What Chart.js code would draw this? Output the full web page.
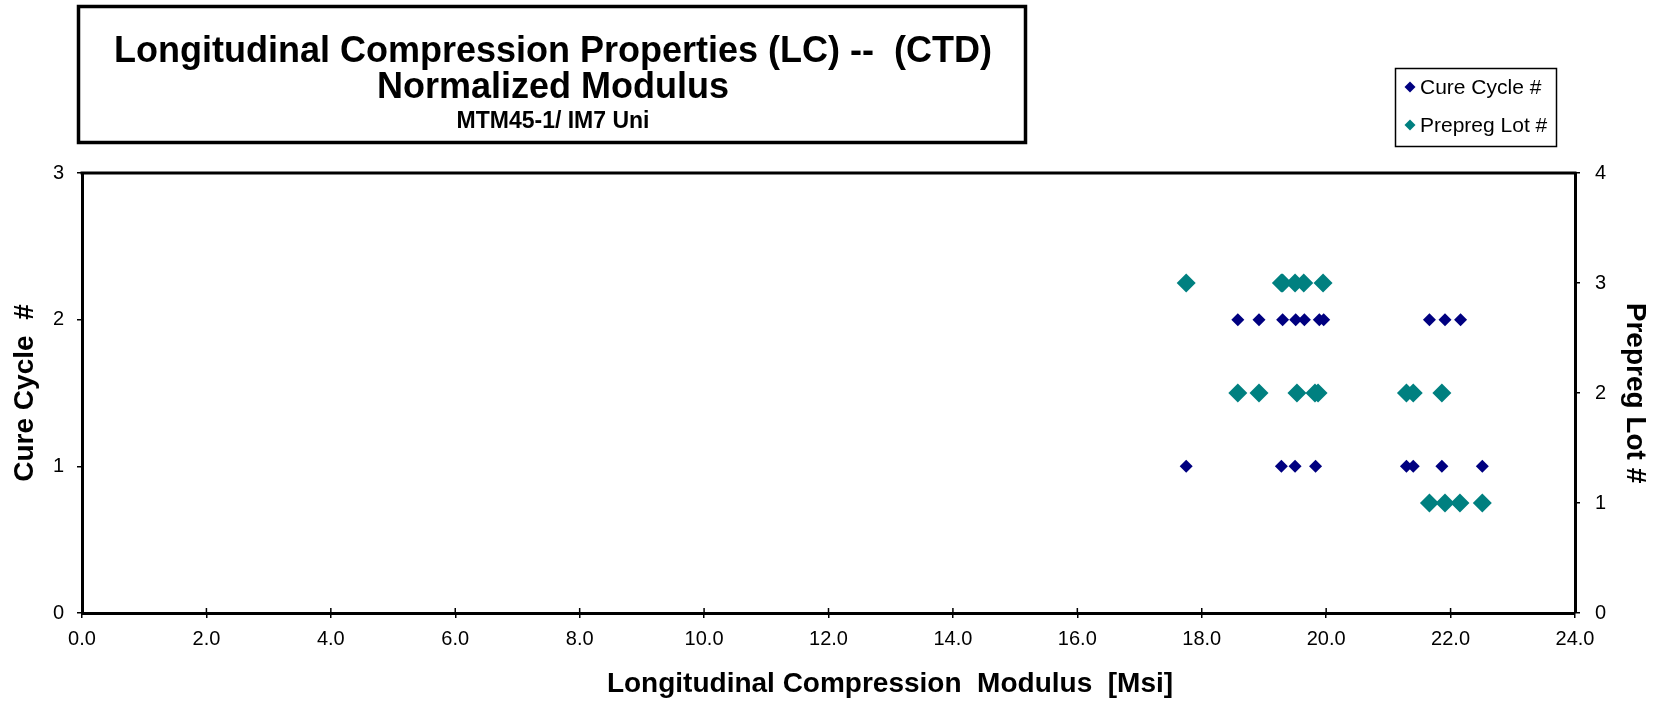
<!DOCTYPE html>
<html lang="en">
<head>
    <meta charset="UTF-8">
    <title>Longitudinal Compression Properties (LC) - Normalized Modulus</title>
    <script src="https://cdn.jsdelivr.net/npm/chart.js"></script>
    <style>
        body { margin: 0; background: #fff; }
        canvas { display: block; }
    </style>
</head>
<body>
    <canvas id="myChart" width="1660" height="703"></canvas>

    <script>
        // datos
        const cureCycleX = [17.75, 19.28, 19.50, 19.83, 21.29, 21.40, 21.86, 22.51,
                            18.58, 18.92, 19.30, 19.51, 19.65, 19.89, 19.96, 21.66, 21.91, 22.16];
        const cureCycleY = [1, 1, 1, 1, 1, 1, 1, 1,
                            2, 2, 2, 2, 2, 2, 2, 2, 2, 2];
        const prepregLotX = [17.75, 19.28, 19.30, 19.50, 19.64, 19.95,
                             18.58, 18.92, 19.53, 19.82, 19.87, 21.29, 21.40, 21.86,
                             21.66, 21.91, 22.15, 22.51];
        const prepregLotY = [3, 3, 3, 3, 3, 3,
                             2, 2, 2, 2, 2, 2, 2, 2,
                             1, 1, 1, 1];
        const titleLines = ['Longitudinal Compression Properties (LC) --  (CTD)', 'Normalized Modulus', 'MTM45-1/ IM7 Uni'];
        const seriesLabels = ['Cure Cycle #', 'Prepreg Lot #'];
        const xTitle = 'Longitudinal Compression  Modulus  [Msi]';

        const FONT = '"Liberation Sans", Arial, sans-serif';
        Chart.defaults.font.family = FONT;
        Chart.defaults.color = '#000';

        const toPoints = (xs, ys) => xs.map((x, i) => ({ x: x, y: ys[i] }));

        // caja del titulo, leyenda, titulo del eje x y linea superior del marco
        const framePlugin = {
            id: 'frame',
            afterDraw(chart) {
                const ctx = chart.ctx;
                const a = chart.chartArea;
                ctx.save();

                // linea superior del area
                ctx.strokeStyle = '#000';
                ctx.lineWidth = 3;
                ctx.beginPath();
                ctx.moveTo(a.left - 1.5, a.top);
                ctx.lineTo(a.right + 1.5, a.top);
                ctx.stroke();

                // marcas del eje x hacia dentro
                const xs = chart.scales.x;
                ctx.lineWidth = 1.5;
                xs.ticks.forEach(t => {
                    const px = xs.getPixelForValue(t.value);
                    ctx.beginPath();
                    ctx.moveTo(px, a.bottom);
                    ctx.lineTo(px, a.bottom - 5);
                    ctx.stroke();
                });

                // titulo
                ctx.lineWidth = 3.5;
                ctx.strokeRect(78.5, 6.5, 947, 136);
                ctx.fillStyle = '#000';
                ctx.textAlign = 'center';
                ctx.textBaseline = 'alphabetic';
                ctx.font = 'bold 36px ' + FONT;
                ctx.fillText(titleLines[0], 553, 62, 885);
                ctx.fillText(titleLines[1], 553, 98, 360);
                ctx.font = 'bold 23px ' + FONT;
                ctx.fillText(titleLines[2], 553, 128, 215);

                // titulo eje x
                ctx.font = 'bold 28px ' + FONT;
                ctx.textBaseline = 'middle';
                ctx.fillText(xTitle, 890, 684);

                // leyenda
                ctx.lineWidth = 1.5;
                ctx.strokeRect(1395.5, 68.5, 161, 78);
                ctx.font = '21px ' + FONT;
                ctx.textAlign = 'left';
                ctx.textBaseline = 'middle';
                const rows = [87, 125];
                chart.data.datasets.forEach((ds, i) => {
                    const y = rows[i];
                    ctx.fillStyle = ds.backgroundColor;
                    ctx.beginPath();
                    ctx.moveTo(1410, y - 5.5);
                    ctx.lineTo(1415.5, y);
                    ctx.lineTo(1410, y + 5.5);
                    ctx.lineTo(1404.5, y);
                    ctx.closePath();
                    ctx.fill();
                    ctx.fillStyle = '#000';
                    ctx.fillText(ds.label, 1420, y + 1);
                });
                ctx.restore();
            }
        };

        const ctx = document.getElementById('myChart').getContext('2d');
        new Chart(ctx, {
            type: 'scatter',
            data: {
                datasets: [{
                    label: seriesLabels[0],
                    data: toPoints(cureCycleX, cureCycleY),
                    yAxisID: 'y',
                    backgroundColor: '#000080',
                    borderColor: '#000080',
                    borderWidth: 0,
                    pointStyle: 'rectRot',
                    pointRadius: 6.5,
                    pointHoverRadius: 6.5
                }, {
                    label: seriesLabels[1],
                    data: toPoints(prepregLotX, prepregLotY),
                    yAxisID: 'y2',
                    backgroundColor: '#008080',
                    borderColor: '#008080',
                    borderWidth: 0,
                    pointStyle: 'rectRot',
                    pointRadius: 9.5,
                    pointHoverRadius: 9.5
                }]
            },
            options: {
                responsive: false,
                animation: false,
                devicePixelRatio: 1,
                layout: { padding: { top: 173, left: 0, right: 0, bottom: 0 } },
                plugins: {
                    legend: { display: false },
                    tooltip: { enabled: false }
                },
                scales: {
                    x: {
                        type: 'linear',
                        min: 0,
                        max: 24,
                        afterFit: (scale) => { scale.height = 90; },
                        border: { display: true, color: '#000', width: 3 },
                        grid: { drawOnChartArea: false, drawTicks: true, tickLength: 5, color: '#000', lineWidth: 1.5 },
                        ticks: {
                            stepSize: 2,
                            padding: 9,
                            font: { size: 20 },
                            callback: (v) => v.toFixed(1)
                        },
                        title: { display: false }
                    },
                    y: {
                        type: 'linear',
                        position: 'left',
                        min: 0,
                        max: 3,
                        afterFit: (scale) => { scale.width = 82; },
                        border: { display: true, color: '#000', width: 3 },
                        grid: { drawOnChartArea: false, drawTicks: true, tickLength: 5, color: '#000', lineWidth: 1.5 },
                        ticks: { stepSize: 1, padding: 13, font: { size: 20 } },
                        title: {
                            display: true,
                            text: 'Cure Cycle  #',
                            font: { size: 28, weight: 'bold' },
                            padding: { top: 8, bottom: 0 }
                        }
                    },
                    y2: {
                        type: 'linear',
                        position: 'right',
                        min: 0,
                        max: 4,
                        afterFit: (scale) => { scale.width = 85; },
                        border: { display: true, color: '#000', width: 3 },
                        grid: { drawOnChartArea: false, drawTicks: true, tickLength: 5, color: '#000', lineWidth: 1.5 },
                        ticks: { stepSize: 1, padding: 15, font: { size: 20 } },
                        title: {
                            display: true,
                            text: 'Prepreg Lot #',
                            font: { size: 28, weight: 'bold' },
                            padding: { top: 8, bottom: 0 }
                        }
                    }
                }
            },
            plugins: [framePlugin]
        });
    </script>
</body>
</html>
